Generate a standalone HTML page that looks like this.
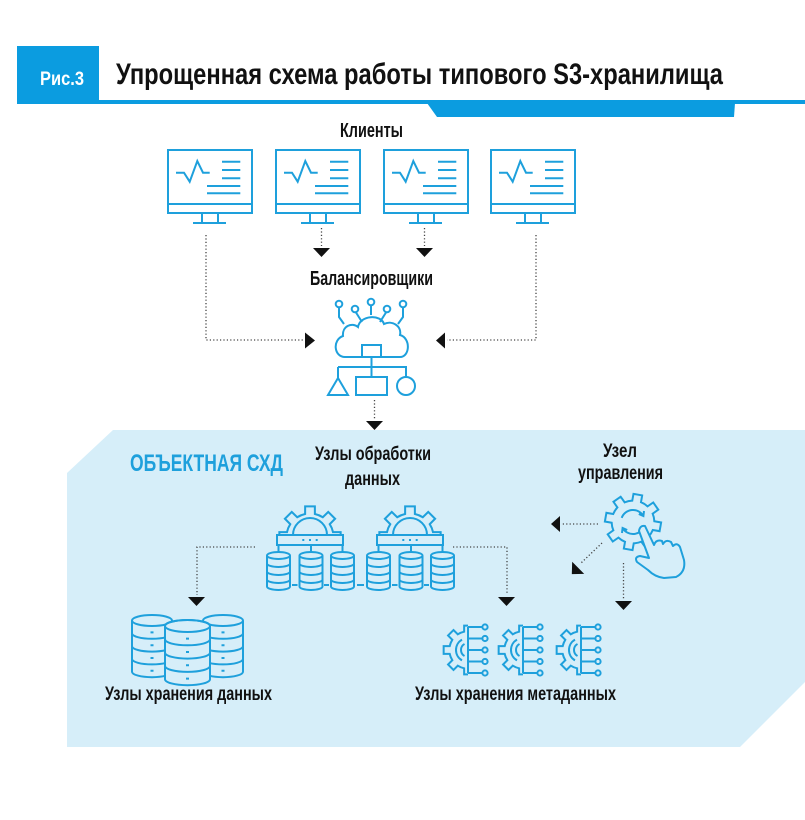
<!DOCTYPE html>
<html><head><meta charset="utf-8"><style>
html,body{margin:0;padding:0;background:#fff;width:805px;height:820px;overflow:hidden}
svg{display:block}
text{font-family:"Liberation Sans Narrow","Liberation Sans",sans-serif;font-weight:bold}
</style></head><body>
<svg width="805" height="820" viewBox="0 0 805 820" xmlns="http://www.w3.org/2000/svg">
<defs>
<path id="gear" d="M 21.52,-4.57 L 28.64,-4.54 L 28.64,4.54 L 21.52,4.57 A 22 22 0 0 1 18.45,11.98 L 23.46,17.05 L 17.05,23.46 L 11.98,18.45 A 22 22 0 0 1 4.57,21.52 L 4.54,28.64 L -4.54,28.64 L -4.57,21.52 A 22 22 0 0 1 -11.98,18.45 L -17.05,23.46 L -23.46,17.05 L -18.45,11.98 A 22 22 0 0 1 -21.52,4.57 L -28.64,4.54 L -28.64,-4.54 L -21.52,-4.57 A 22 22 0 0 1 -18.45,-11.98 L -23.46,-17.05 L -17.05,-23.46 L -11.98,-18.45 A 22 22 0 0 1 -4.57,-21.52 L -4.54,-28.64 L 4.54,-28.64 L 4.57,-21.52 A 22 22 0 0 1 11.98,-18.45 L 17.05,-23.46 L 23.46,-17.05 L 18.45,-11.98 A 22 22 0 0 1 21.52,-4.57 Z"/>
<clipPath id="tophalf"><rect x="-40" y="-40" width="80" height="38"/></clipPath>
<clipPath id="lefthalf"><rect x="-40" y="-40" width="40" height="80"/></clipPath>
<g id="mon" fill="none" stroke="#1ea0dc" stroke-width="2">
<rect x="0" y="0" width="84" height="63"/>
<line x1="0" y1="54" x2="84" y2="54"/>
<line x1="34" y1="63" x2="34" y2="73"/><line x1="50" y1="63" x2="50" y2="73"/>
<line x1="25" y1="73" x2="58" y2="73"/>
<polyline points="8,22.7 16,22.7 21.7,31.7 29.3,11 35,22.7 41.7,22.7" stroke-linejoin="miter"/>
<line x1="54" y1="11.7" x2="72.3" y2="11.7"/>
<line x1="54" y1="20" x2="72.3" y2="20"/>
<line x1="54" y1="28.3" x2="72.3" y2="28.3"/>
<line x1="39" y1="36" x2="72.3" y2="36"/>
<line x1="39" y1="43.3" x2="72.3" y2="43.3"/>
</g>
<g id="scyl">
<ellipse cx="0" cy="18.5" rx="11.5" ry="3.5"/>
<path d="M -11.5,18.5 V 49.5 M 11.5,18.5 V 49.5 M -11.5,26.5 A 11.5 3.5 0 0 0 11.5,26.5 M -11.5,34.5 A 11.5 3.5 0 0 0 11.5,34.5 M -11.5,42.5 A 11.5 3.5 0 0 0 11.5,42.5 M -11.5,49.5 A 11.5 3.5 0 0 0 11.5,49.5"/>
</g>
<g id="proc" fill="none" stroke="#1ea0dc" stroke-width="2">
<g clip-path="url(#tophalf)"><use href="#gear" transform="scale(1.07)" stroke-width="1.9"/></g>
<path d="M -17,-2 A 17 17 0 0 1 17,-2"/>
<rect x="-33" y="-2" width="66" height="10" fill="#d6eef9"/>
<path d="M -7.7,3 h2 M -1,3 h2 M 5.7,3 h2"/>
<path d="M -31.5,8 V 15 M 1,8 V 15 M 32.5,8 V 15"/>
<use href="#scyl" x="-31.5"/><use href="#scyl" x="1"/><use href="#scyl" x="32.5"/>
<path d="M -18,48 h5.5 M 14,48 h5"/>
</g>
<g id="meta" fill="none" stroke="#1ea0dc" stroke-width="2">
<g clip-path="url(#lefthalf)"><use href="#gear" transform="scale(0.85)" stroke-width="2.35"/></g>
<line x1="0" y1="-23" x2="0" y2="23"/>
<path d="M 0,-23 h14 M 0,-11.5 h14 M 0,0 h14 M 0,11.5 h14 M 0,23 h14"/>
<circle cx="17" cy="-23" r="2.6"/><circle cx="17" cy="-11.5" r="2.6"/><circle cx="17" cy="0" r="2.6"/><circle cx="17" cy="11.5" r="2.6"/><circle cx="17" cy="23" r="2.6"/>
<path d="M -6,-10.4 A 12 12 0 0 0 -6,10.4 M -3.5,-6.06 A 7 7 0 0 0 -3.5,6.06"/>
</g>
</defs>

<!-- header -->
<rect x="17" y="46" width="82" height="58" fill="#0b9ce0"/>
<rect x="99" y="100" width="706" height="4" fill="#0b9ce0"/>
<polygon points="427,103 735,103 734,117 437,117" fill="#0b9ce0"/>
<text x="40" y="85" font-size="19" fill="#fff" textLength="44" lengthAdjust="spacingAndGlyphs">Рис.3</text>
<text x="116" y="84" font-size="30" fill="#111" textLength="607" lengthAdjust="spacingAndGlyphs">Упрощенная схема работы типового S3-хранилища</text>

<!-- clients -->
<text x="340" y="137" font-size="20" fill="#111" textLength="63" lengthAdjust="spacingAndGlyphs">Клиенты</text>
<use href="#mon" transform="translate(168,150)"/>
<use href="#mon" transform="translate(276,150)"/>
<use href="#mon" transform="translate(384,150)"/>
<use href="#mon" transform="translate(491,150)"/>

<!-- light blue area -->
<polygon points="113,430 805,430 805,682 740,747 67,747 67,473" fill="#d6eef9"/>

<!-- connectors top -->
<g fill="none" stroke="#444" stroke-width="1.3" stroke-dasharray="1.2 2.2">
<polyline points="206,235 206,340 303,340"/>
<polyline points="536,235 536,340 447,340"/>
<line x1="321.5" y1="228" x2="321.5" y2="246"/>
<line x1="424.5" y1="228" x2="424.5" y2="246"/>
<line x1="374.5" y1="400" x2="374.5" y2="420"/>
<polyline points="255,547 197,547 197,595"/>
<polyline points="453,547 507,547 507,595"/>
<line x1="598" y1="524" x2="562" y2="524"/>
<line x1="602" y1="543" x2="580" y2="564"/>
<line x1="623.5" y1="563" x2="623.5" y2="600"/>
</g>
<g fill="#111">
<polygon points="305,332.5 305,348.5 315,340.5"/>
<polygon points="445,332.5 445,348.5 436,340.5"/>
<polygon points="313,248 330,248 321.5,257"/>
<polygon points="416,248 433,248 424.5,257"/>
<polygon points="366,421 383,421 374.5,430"/>
<polygon points="188,597 205,597 196.5,606"/>
<polygon points="498,597 515,597 506.5,606"/>
<polygon points="615,601 632,601 623.5,610"/>
<polygon points="560,516 560,532 551,524"/>
<polygon points="-8.5,-4.5 8.5,-4.5 0,4.5" transform="translate(575,571) rotate(45)"/>
</g>

<!-- balancer -->
<text x="310" y="285" font-size="20" fill="#111" textLength="123" lengthAdjust="spacingAndGlyphs">Балансировщики</text>
<g fill="none" stroke="#1ea0dc" stroke-width="2">
<circle cx="339" cy="304" r="3.3"/><circle cx="355" cy="309" r="3.3"/><circle cx="371" cy="302" r="3.3"/><circle cx="387" cy="309" r="3.3"/><circle cx="403" cy="304" r="3.3"/>
<path d="M 339,307.5 V 317 L 344,324 M 356,312.5 L 362,322 M 371,305.5 V 315 M 386,312.5 L 380,322 M 403,307.5 V 317 L 398,324"/>
<path d="M 345,357 C 334,357 332,340 343,336 C 342,326 352,322 358,327 C 360,315 381,314 384,324 C 392,320 402,326 400,335 C 411,338 410,357 400,357 Z"/>
<rect x="362" y="345" width="19" height="12"/>
<path d="M 371.5,357 V 367 M 338,367 H 407 M 338,367 V 378 M 371.5,367 V 377 M 406,367 V 377"/>
<polygon points="338,378 328,395 348,395"/>
<rect x="356" y="377" width="31" height="18"/>
<circle cx="406" cy="386" r="9"/>
</g>

<!-- object storage -->
<text x="130" y="471" font-size="24" fill="#1ea0dc" textLength="153" lengthAdjust="spacingAndGlyphs">ОБЪЕКТНАЯ СХД</text>
<text x="315" y="460" font-size="19" fill="#111" textLength="116" lengthAdjust="spacingAndGlyphs">Узлы обработки</text>
<text x="345" y="485" font-size="19" fill="#111" textLength="55" lengthAdjust="spacingAndGlyphs">данных</text>
<use href="#proc" transform="translate(310,537)"/>
<use href="#proc" transform="translate(410,537)"/>
<line x1="357" y1="585" x2="364" y2="585" stroke="#1ea0dc" stroke-width="2"/>

<!-- control node -->
<text x="603" y="457" font-size="19" fill="#111" textLength="34" lengthAdjust="spacingAndGlyphs">Узел</text>
<text x="578" y="479" font-size="19" fill="#111" textLength="85" lengthAdjust="spacingAndGlyphs">управления</text>
<g fill="none" stroke="#1ea0dc" stroke-width="2">
<use href="#gear" transform="translate(633,522) rotate(10) scale(0.97)" stroke-width="2.06"/>
<path d="M 621.7,517.9 A 12 12 0 0 1 643.4,516 M 638.8,514 L 643.4,516 L 644,511"/>
<path d="M 644.3,526.1 A 12 12 0 0 1 622.6,528 M 627.2,530 L 622.6,528 L 622,533"/>
<path fill="#d6eef9" stroke-linejoin="round" d="M 639,531 Q 640,525 645,526 L 654,545 Q 656,539 662,541 L 663,544 Q 666,539 671,542 L 673,546 Q 677,542 680,547 L 684,560 Q 686,572 676,577 L 664,578 Q 655,577 648,570 L 637,562 Q 634,557 640,556 L 649,558 Z"/>
</g>

<!-- data storage nodes -->
<g fill="none" stroke="#1ea0dc" stroke-width="2">
<g>
<ellipse cx="152" cy="620.5" rx="20" ry="5.5"/>
<path d="M 132,620.5 V 671.7 M 172,620.5 V 671.7 M 132,633.3 A 20 5.5 0 0 0 172,633.3 M 132,646.1 A 20 5.5 0 0 0 172,646.1 M 132,658.9 A 20 5.5 0 0 0 172,658.9 M 132,671.7 A 20 5.5 0 0 0 172,671.7"/>
<path d="M 150.5,632.4 h3 M 150.5,645.2 h3 M 150.5,658 h3 M 150.5,670.8 h3"/>
</g>
<g>
<ellipse cx="223" cy="620.5" rx="20" ry="5.5"/>
<path d="M 203,620.5 V 671.7 M 243,620.5 V 671.7 M 203,633.3 A 20 5.5 0 0 0 243,633.3 M 203,646.1 A 20 5.5 0 0 0 243,646.1 M 203,658.9 A 20 5.5 0 0 0 243,658.9 M 203,671.7 A 20 5.5 0 0 0 243,671.7"/>
<path d="M 221.5,632.4 h3 M 221.5,645.2 h3 M 221.5,658 h3 M 221.5,670.8 h3"/>
</g>
<g>
<path fill="#d6eef9" d="M 165,626 V 679.2 A 22.5 6 0 0 0 210,679.2 V 626 A 22.5 6 0 0 0 165,626 Z"/>
<ellipse cx="187.5" cy="626" rx="22.5" ry="6"/>
<path d="M 165,639.3 A 22.5 6 0 0 0 210,639.3 M 165,652.6 A 22.5 6 0 0 0 210,652.6 M 165,665.9 A 22.5 6 0 0 0 210,665.9"/>
<path d="M 186,638.6 h3 M 186,652 h3 M 186,665.3 h3 M 186,678.6 h3"/>
</g>
</g>
<text x="105" y="700" font-size="19" fill="#111" textLength="167" lengthAdjust="spacingAndGlyphs">Узлы хранения данных</text>

<!-- metadata nodes -->
<use href="#meta" transform="translate(468,650)"/>
<use href="#meta" transform="translate(523,650)"/>
<use href="#meta" transform="translate(581,650)"/>
<text x="415" y="700" font-size="19" fill="#111" textLength="201" lengthAdjust="spacingAndGlyphs">Узлы хранения метаданных</text>
</svg>
</body></html>
